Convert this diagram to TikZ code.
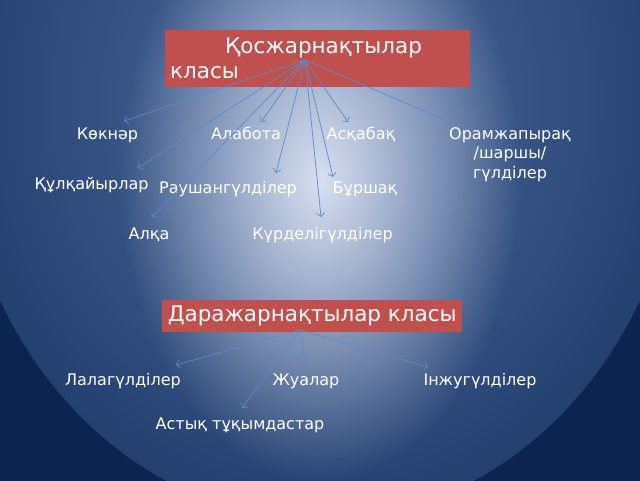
\documentclass[tikz,border=0pt]{standalone}
\usepackage{fontspec}
\setmainfont{DejaVu Sans}
\usetikzlibrary{arrows.meta,fadings}
\definecolor{boxred}{HTML}{C0504D}
\definecolor{arrblue}{HTML}{5B8BC9}
\definecolor{bgdark}{HTML}{0C2550}
\definecolor{bgmid}{HTML}{4F6C9E}
\definecolor{bgedge}{HTML}{23406F}
\definecolor{bglight}{HTML}{D8E0F0}
\tikzfading[name=glow, inner color=transparent!0, outer color=transparent!100]
\begin{document}
\begin{tikzpicture}[x=1pt,y=-1pt,
  lbl/.style={text=white, font=\fontsize{16}{19.5}\selectfont, inner sep=0pt, anchor=base},
  head/.style={fill=boxred, text=white, font=\fontsize{21.5}{25}\selectfont, inner sep=0pt, anchor=north west},
  arr/.style={draw=arrblue, line width=.7pt, -{Straight Barb[length=3.5pt,width=8pt]}}]
\useasboundingbox (0,0) rectangle (640,480);
\begin{scope}
\clip (0,0) rectangle (640,480);
\fill[bgdark] (-5,-5) rectangle (645,485);
\shade[inner color=bgmid, outer color=bgedge] (320,100) ellipse[x radius=364, y radius=420];
\fill[bglight, path fading=glow] (320,180) ellipse[x radius=200, y radius=300];
\end{scope}

% Qoszharnaqtylar
\node (0) at (165,30) [head, minimum width=305pt, minimum height=57pt, text width=295pt, align=left, inner xsep=5pt] {\hspace*{55pt}Қосжарнақтылар\\класы};
\node (1) at (107.5,139.5) [lbl] {Көкнәр};
\node (2) at (246,139.5) [lbl] {Алабота};
\node (3) at (361,139.5) [lbl] {Асқабақ};
\node (4) at (510,127) [lbl, anchor=north, align=center] {Орамжапырақ\\/шаршы/\\гүлділер};
\node (5) at (91.5,189.5) [lbl] {Құлқайырлар};
\node (6) at (228,193.5) [lbl] {Раушангүлділер};
\node (7) at (365,193.5) [lbl] {Бұршақ};
\node (8) at (149,239.5) [lbl] {Алқа};
\node (9) at (322.5,239.5) [lbl] {Күрделігүлділер};

\coordinate (0s) at (305,60);
\coordinate (1e) at (124,121);
\coordinate (2e) at (261,122);
\coordinate (3e) at (348,122);
\coordinate (4e) at (452,123);
\coordinate (5e) at (138,168);
\coordinate (6e) at (276,173);
\coordinate (7e) at (333,177);
\coordinate (8e) at (152,217);
\coordinate (9e) at (321,217);

\draw[arr] (0s) to (1e);
\draw[arr] (0s) to (2e);
\draw[arr] (0s) to (3e);
\draw[arr] (0s) to (4e);
\draw[arr] (0s) to (5e);
\draw[arr] (0s) to (6e);
\draw[arr] (0s) to (7e);
\draw[arr] (0s) to (8e);
\draw[arr] (0s) to (9e);

% Darazharnaqtylar
\node (10) at (162,300) [head, minimum width=300pt, minimum height=32pt, inner xsep=5pt] {Даражарнақтылар класы};
\node (11) at (123,385.5) [lbl] {Лалагүлділер};
\node (12) at (306,385.5) [lbl] {Жуалар};
\node (13) at (480,385.5) [lbl] {Інжугүлділер};
\node (14) at (240,429.5) [lbl] {Астық тұқымдастар};

\coordinate (10s) at (300,330);
\coordinate (11e) at (176,365);
\coordinate (12e) at (305,363);
\coordinate (13e) at (428,367);
\coordinate (14e) at (242,408);

\draw[arr] (10s) to (11e);
\draw[arr] (10s) to (12e);
\draw[arr] (10s) to (13e);
\draw[arr] (10s) to (14e);
\end{tikzpicture}
\end{document}
